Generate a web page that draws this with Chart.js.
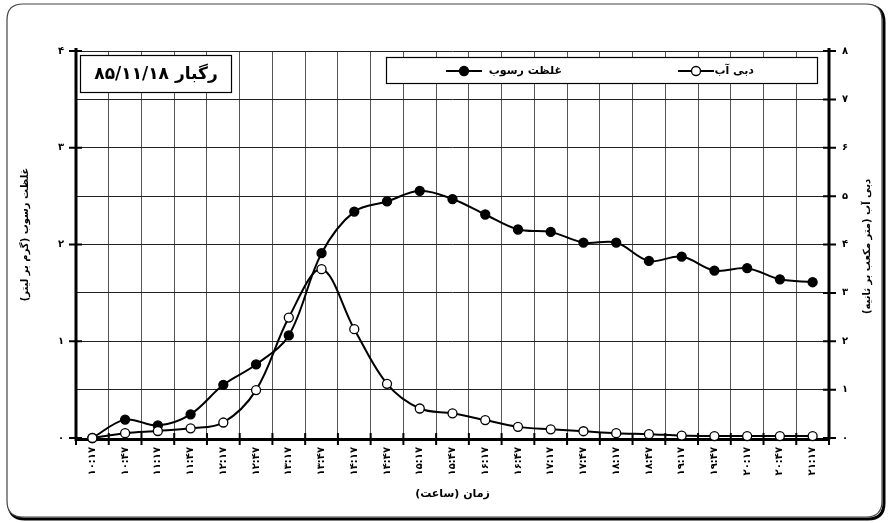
<!DOCTYPE html>
<html lang="fa">
<head>
<meta charset="utf-8">
<title>رگبار ۸۵/۱۱/۱۸</title>
<script src="https://cdn.jsdelivr.net/npm/chart.js@4.4.1/dist/chart.umd.min.js"></script>
<style>
  html, body { margin: 0; padding: 0; background: #fff; }
  #wrap { position: relative; width: 890px; height: 523px; }
</style>
</head>
<body>
<div id="wrap"><canvas id="sedChart"></canvas></div>
<script>
// time of sampling (hh:mm)
const times = [
  "10:17", "10:47", "11:17", "11:47", "12:17", "12:47", "13:17", "13:47",
  "14:17", "14:47", "15:17", "15:47", "16:17", "16:47", "17:17", "17:47",
  "18:17", "18:47", "19:17", "19:47", "20:17", "20:47", "21:17",
];
// sediment concentration (g/l) - left axis
const sediment = [
  0, 0.19, 0.13, 0.245, 0.55, 0.76, 1.06, 1.91,
  2.34, 2.445, 2.555, 2.47, 2.31, 2.155, 2.13, 2.02,
  2.02, 1.83, 1.875, 1.73, 1.755, 1.64, 1.61,
];
// water discharge (m3/s) - right axis
const discharge = [
  0, 0.1, 0.145, 0.2, 0.32, 0.99, 2.49, 3.49,
  2.25, 1.12, 0.61, 0.51, 0.37, 0.23, 0.18, 0.14,
  0.1, 0.08, 0.05, 0.04, 0.04, 0.04, 0.04,
];

const titleText = "رگبار ۸۵/۱۱/۱۸";
const sedLabel = "غلظت رسوب";
const disLabel = "دبی آب";
const leftTitle = "غلظت رسوب (گرم بر لیتر)";
const rightTitle = "دبی آب (متر مکعب بر ثانیه)";
const bottomTitle = "زمان (ساعت)";

const FONT = "'DejaVu Sans', sans-serif";
const faDigits = (s) => String(s).replace(/\d/g, (d) => "۰۱۲۳۴۵۶۷۸۹"[d]);

function roundRect(ctx, x, y, w, h, r) {
  ctx.beginPath();
  ctx.moveTo(x + r, y);
  ctx.lineTo(x + w - r, y);
  ctx.quadraticCurveTo(x + w, y, x + w, y + r);
  ctx.lineTo(x + w, y + h - r);
  ctx.quadraticCurveTo(x + w, y + h, x + w - r, y + h);
  ctx.lineTo(x + r, y + h);
  ctx.quadraticCurveTo(x, y + h, x, y + h - r);
  ctx.lineTo(x, y + r);
  ctx.quadraticCurveTo(x, y, x + r, y);
  ctx.closePath();
}

// frame, axes, tick marks, boxes and titles
const decorPlugin = {
  id: "decor",
  beforeDraw(chart) {
    const ctx = chart.ctx;
    ctx.save();
    ctx.fillStyle = "#fff";
    ctx.fillRect(0, 0, chart.width, chart.height);
    // outer rounded frame with shadow on bottom/right
    ctx.strokeStyle = "#000";
    ctx.lineWidth = 3;
    roundRect(ctx, 9, 6, 875, 513, 16);
    ctx.stroke();
    ctx.fillStyle = "#fff";
    roundRect(ctx, 7, 4, 875, 513, 16);
    ctx.fill();
    ctx.strokeStyle = "#444";
    ctx.lineWidth = 1.2;
    ctx.stroke();
    ctx.restore();
  },
  beforeDatasetsDraw(chart) {
    const ctx = chart.ctx;
    const a = chart.chartArea;
    const x = chart.scales.x;
    const yL = chart.scales.y;
    const yR = chart.scales.y1;
    ctx.save();
    ctx.strokeStyle = "#000";
    ctx.lineWidth = 3;
    ctx.beginPath();
    ctx.moveTo(a.left, a.top - 3);
    ctx.lineTo(a.left, a.bottom + 1.5);
    ctx.lineTo(a.right, a.bottom + 1.5);
    ctx.moveTo(a.right, a.top - 3);
    ctx.lineTo(a.right, a.bottom + 1.5);
    ctx.stroke();
    ctx.lineWidth = 2;
    ctx.beginPath();
    for (let v = 0; v <= 4; v++) {
      const py = yL.getPixelForValue(v);
      ctx.moveTo(a.left - 7, py);
      ctx.lineTo(a.left + 6, py);
    }
    for (let v = 0; v <= 8; v++) {
      const py = yR.getPixelForValue(v);
      ctx.moveTo(a.right - 6, py);
      ctx.lineTo(a.right + 7, py);
    }
    for (let i = 0; i <= times.length; i++) {
      const px = x.getPixelForValue(i - 0.5);
      ctx.moveTo(px, a.bottom - 5);
      ctx.lineTo(px, a.bottom + 7);
    }
    ctx.stroke();
    ctx.restore();
  },
  afterDatasetsDraw(chart) {
    const ctx = chart.ctx;
    const a = chart.chartArea;
    ctx.save();
    ctx.direction = "rtl";
    ctx.fillStyle = "#000";
    ctx.textBaseline = "middle";

    // storm title box
    ctx.fillStyle = "#fff";
    ctx.fillRect(80, 55, 152, 38);
    ctx.strokeStyle = "#000";
    ctx.lineWidth = 1.2;
    ctx.strokeRect(80.5, 55.5, 151, 37);
    ctx.fillStyle = "#000";
    ctx.font = "bold 17px " + FONT;
    ctx.textAlign = "center";
    ctx.fillText(titleText, 156, 75);

    // legend box
    ctx.fillStyle = "#fff";
    ctx.fillRect(386, 57, 432, 27);
    ctx.strokeRect(386.5, 57.5, 431, 26);
    ctx.font = "bold 11px " + FONT;
    ctx.textAlign = "right";
    const ly = 71;
    const items = [
      { text: disLabel, textRight: 754, x0: 678, x1: 714, fill: "#fff" },
      { text: sedLabel, textRight: 562, x0: 446, x1: 482, fill: "#000" },
    ];
    items.forEach((it) => {
      ctx.strokeStyle = "#000";
      ctx.lineWidth = 2;
      ctx.beginPath();
      ctx.moveTo(it.x0, ly);
      ctx.lineTo(it.x1, ly);
      ctx.stroke();
      ctx.beginPath();
      ctx.arc((it.x0 + it.x1) / 2, ly, 4.5, 0, Math.PI * 2);
      ctx.fillStyle = it.fill;
      ctx.fill();
      ctx.lineWidth = 1.3;
      ctx.stroke();
      ctx.fillStyle = "#000";
      ctx.fillText(it.text, it.textRight, ly);
    });

    // axis titles
    ctx.font = "bold 11px " + FONT;
    ctx.textAlign = "center";
    ctx.fillText(bottomTitle, (a.left + a.right) / 2, 494);
    ctx.font = "bold 10px " + FONT;
    ctx.save();
    ctx.translate(25, (a.top + a.bottom) / 2 - 10);
    ctx.rotate(-Math.PI / 2);
    ctx.fillText(leftTitle, 0, 0);
    ctx.restore();
    ctx.save();
    ctx.translate(867, (a.top + a.bottom) / 2 + 2);
    ctx.rotate(-Math.PI / 2);
    ctx.fillText(rightTitle, 0, 0);
    ctx.restore();
    ctx.restore();
  },
};

const ctx = document.getElementById("sedChart").getContext("2d");

new Chart(ctx, {
  type: "line",
  data: {
    labels: times,
    datasets: [
      {
        label: disLabel,
        data: discharge,
        yAxisID: "y1",
        borderColor: "#000",
        borderWidth: 2,
        pointBackgroundColor: "#fff",
        pointBorderColor: "#000",
        pointBorderWidth: 1.3,
        pointRadius: 4.5,
        tension: 0.35,
        order: 0,
        clip: false,
      },
      {
        label: sedLabel,
        data: sediment,
        yAxisID: "y",
        borderColor: "#000",
        borderWidth: 2,
        pointBackgroundColor: "#000",
        pointBorderColor: "#000",
        pointBorderWidth: 1.3,
        pointRadius: 4.5,
        tension: 0.35,
        order: 1,
        clip: false,
      },
    ],
  },
  options: {
    animation: false,
    responsive: true,
    maintainAspectRatio: false,
    layout: {
      padding: { top: 51, left: 0, right: 0, bottom: 0 },
    },
    plugins: {
      legend: { display: false },
      tooltip: { enabled: false },
    },
    scales: {
      x: {
        type: "category",
        offset: true,
        border: { display: false },
        grid: {
          offset: true,
          color: "#555",
          lineWidth: 1,
          drawTicks: false,
        },
        ticks: {
          autoSkip: false,
          minRotation: 90,
          maxRotation: 90,
          padding: 9,
          color: "#000",
          font: { family: FONT, size: 10, weight: "bold" },
          callback: function (v) {
            return faDigits(times[v]);
          },
        },
        afterFit: (s) => { s.height = 85; },
      },
      y: {
        position: "left",
        min: 0,
        max: 4,
        border: { display: false },
        grid: { display: false, drawTicks: false },
        ticks: {
          stepSize: 1,
          padding: 12,
          color: "#000",
          font: { family: FONT, size: 10, weight: "bold" },
          callback: (v) => faDigits(v),
        },
        afterFit: (s) => { s.width = 76; },
      },
      y1: {
        position: "right",
        min: 0,
        max: 8,
        border: { display: false },
        grid: {
          color: "#222",
          lineWidth: 1,
          drawTicks: false,
        },
        ticks: {
          stepSize: 1,
          padding: 13,
          color: "#000",
          font: { family: FONT, size: 10, weight: "bold" },
          callback: (v) => faDigits(v),
        },
        afterFit: (s) => { s.width = 61; },
      },
    },
  },
  plugins: [decorPlugin],
});
</script>
</body>
</html>
